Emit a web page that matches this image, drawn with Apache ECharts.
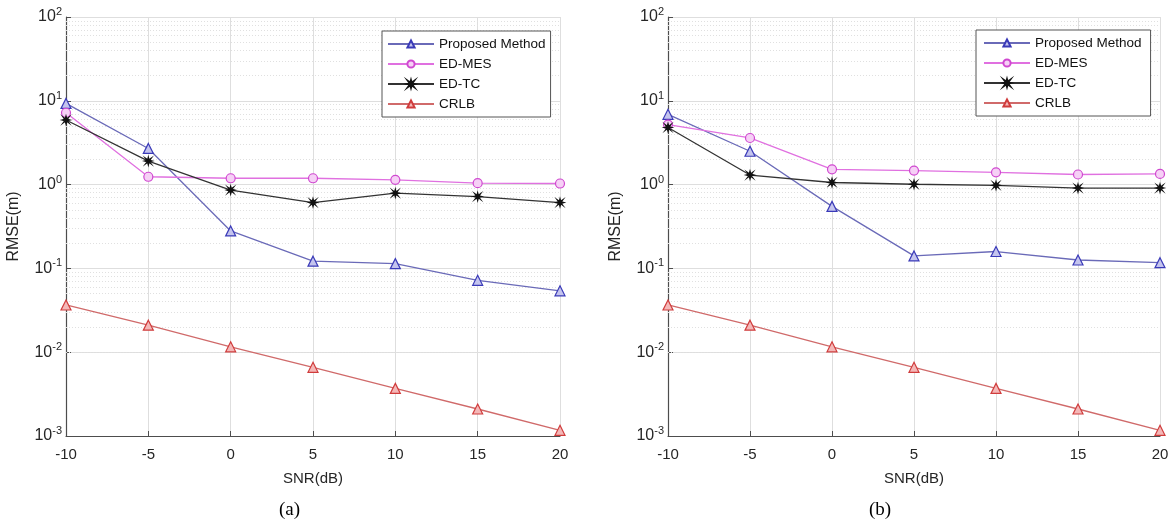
<!DOCTYPE html>
<html>
<head>
<meta charset="utf-8">
<script src="https://cdn.jsdelivr.net/npm/echarts@6/dist/echarts.min.js"></script>
<style>
  html, body { margin: 0; padding: 0; background: #fff; }
  #chart { width: 1172px; height: 524px; }
</style>
</head>
<body>
<div id="chart"></div>
<script>
// SNR 横轴
const snr = [-10, -5, 0, 5, 10, 15, 20]

// (a)
const proposedA = [9.3, 2.7, 0.28, 0.122, 0.114, 0.072, 0.054]
const edMesA = [7.2, 1.24, 1.19, 1.19, 1.14, 1.04, 1.03]
const edTcA = [5.9, 1.91, 0.86, 0.61, 0.79, 0.72, 0.61]
const crlbA = [0.0366, 0.021, 0.0116, 0.0066, 0.0037, 0.0021, 0.00117]

// (b)
const proposedB = [6.9, 2.5, 0.55, 0.141, 0.159, 0.126, 0.117]
const edMesB = [5.2, 3.6, 1.52, 1.47, 1.40, 1.32, 1.34]
const edTcB = [4.8, 1.30, 1.06, 1.01, 0.98, 0.91, 0.91]
const crlbB = [0.0366, 0.021, 0.0116, 0.0066, 0.0037, 0.0021, 0.00117]

const seriesNames = ['Proposed Method', 'ED-MES', 'ED-TC', 'CRLB']
const captions = ['(a)', '(b)']

// 对数轴的次网格 2..9 x 10^k
const minorVals = []
for (let k = -3; k < 2; k++) {
  for (let d = 2; d <= 9; d++) minorVals.push(d * Math.pow(10, k))
}

const FONT = 'Liberation Sans'
const starPath = 'path://M0,-5 L0.9,-1.6 L3.54,-3.54 L1.6,-0.9 L5,0 L1.6,0.9 L3.54,3.54 L0.9,1.6 L0,5 L-0.9,1.6 L-3.54,3.54 L-1.6,0.9 L-5,0 L-1.6,-0.9 L-3.54,-3.54 L-0.9,-1.6 Z'

const styles = {
  'Proposed Method': { line: '#6a6ab8', border: '#3a3ab8', fill: '#c4c4ee', symbol: 'triangle', size: 10 },
  'ED-MES': { line: '#e070e0', border: '#d048d0', fill: '#f6d0f6', symbol: 'circle', size: 9 },
  'ED-TC': { line: '#333333', border: '#111111', fill: '#111111', symbol: starPath, size: 8 },
  'CRLB': { line: '#d06a6a', border: '#d03c3c', fill: '#f4b8b8', symbol: 'triangle', size: 10 }
}

const grids = [
  { left: 66, top: 17, width: 494, height: 419 },
  { left: 668, top: 17, width: 492, height: 419 }
]

const toPairs = vals => snr.map((x, i) => [x, vals[i]])

const makeSeries = (name, vals, idx, extra) => {
  const s = styles[name]
  return Object.assign({
    name: name,
    type: 'line',
    xAxisIndex: idx,
    yAxisIndex: idx,
    data: toPairs(vals),
    symbol: s.symbol,
    symbolSize: s.size,
    showAllSymbol: true,
    lineStyle: { color: s.line, width: 1.3 },
    itemStyle: { color: s.fill, borderColor: s.border, borderWidth: 1.2 },
    z: 3
  }, extra || {})
}

const minorGrid = {
  silent: true,
  z: 1,
  symbol: ['none', 'none'],
  label: { show: false },
  lineStyle: { color: '#e0e0e0', type: [1, 2], width: 1 },
  emphasis: { disabled: true },
  data: minorVals.map(v => ({ yAxis: v }))
}

const series = []
;[[proposedA, edMesA, edTcA, crlbA], [proposedB, edMesB, edTcB, crlbB]].forEach((set, idx) => {
  set.forEach((vals, j) => {
    const extra = j === 3 ? { markLine: minorGrid } : null
    series.push(makeSeries(seriesNames[j], vals, idx, extra))
  })
})

const xAxes = grids.map((g, i) => ({
  gridIndex: i,
  type: 'value',
  min: -10,
  max: 20,
  interval: 5,
  name: 'SNR(dB)',
  nameLocation: 'middle',
  nameGap: 35,
  nameTextStyle: { fontFamily: FONT, fontSize: 15, color: '#262626' },
  axisLine: { onZero: false, lineStyle: { color: '#4d4d4d', width: 1.2 } },
  axisTick: { inside: true, length: 5, lineStyle: { color: '#4d4d4d' } },
  axisLabel: { fontFamily: FONT, fontSize: 15, color: '#262626', margin: 11 },
  splitLine: { show: true, lineStyle: { color: '#dedede', width: 1 } }
}))

const yAxes = grids.map((g, i) => ({
  gridIndex: i,
  type: 'log',
  logBase: 10,
  min: 0.001,
  max: 100,
  name: 'RMSE(m)',
  nameLocation: 'middle',
  nameRotate: 90,
  nameGap: 44,
  nameTextStyle: { fontFamily: FONT, fontSize: 16, color: '#262626' },
  axisLine: { show: true, onZero: false, lineStyle: { color: '#4d4d4d', width: 1.2 } },
  axisTick: { inside: true, length: 5, lineStyle: { color: '#4d4d4d' } },
  axisLabel: {
    margin: 4,
    formatter: v => '{b|10}{e|' + Math.round(Math.log10(v)) + '}',
    rich: {
      b: { fontFamily: FONT, fontSize: 16, color: '#262626' },
      e: { fontFamily: FONT, fontSize: 11, color: '#262626', padding: [0, 0, 10, 0] }
    }
  },
  splitLine: { show: true, lineStyle: { color: '#dedede', width: 1 } }
}))

const legendBase = {
  orient: 'vertical',
  data: seriesNames,
  itemWidth: 46,
  itemHeight: 9,
  itemGap: 4,
  z: 20,
  backgroundColor: '#fff',
  borderColor: '#555',
  borderWidth: 1,
  borderRadius: 0,
  selectedMode: false,
  textStyle: { fontFamily: FONT, fontSize: 13.5, color: '#111', lineHeight: 16 }
}

const option = {
  animation: false,
  backgroundColor: '#fff',
  grid: grids,
  xAxis: xAxes,
  yAxis: yAxes,
  legend: [
    Object.assign({}, legendBase, { left: 382, top: 31, padding: [5, 5, 5, 5] }),
    Object.assign({}, legendBase, { left: 976, top: 30, padding: [5, 9, 5, 7] })
  ],
  title: captions.map((c, i) => ({
    text: c,
    left: i === 0 ? 279 : 869,
    top: 501,
    padding: 0,
    textStyle: { fontFamily: 'Liberation Serif', fontSize: 19, fontWeight: 'normal', color: '#000' }
  })),
  series: series
}

const chart = echarts.init(document.getElementById('chart'))
chart.setOption(option)
</script>
</body>
</html>
